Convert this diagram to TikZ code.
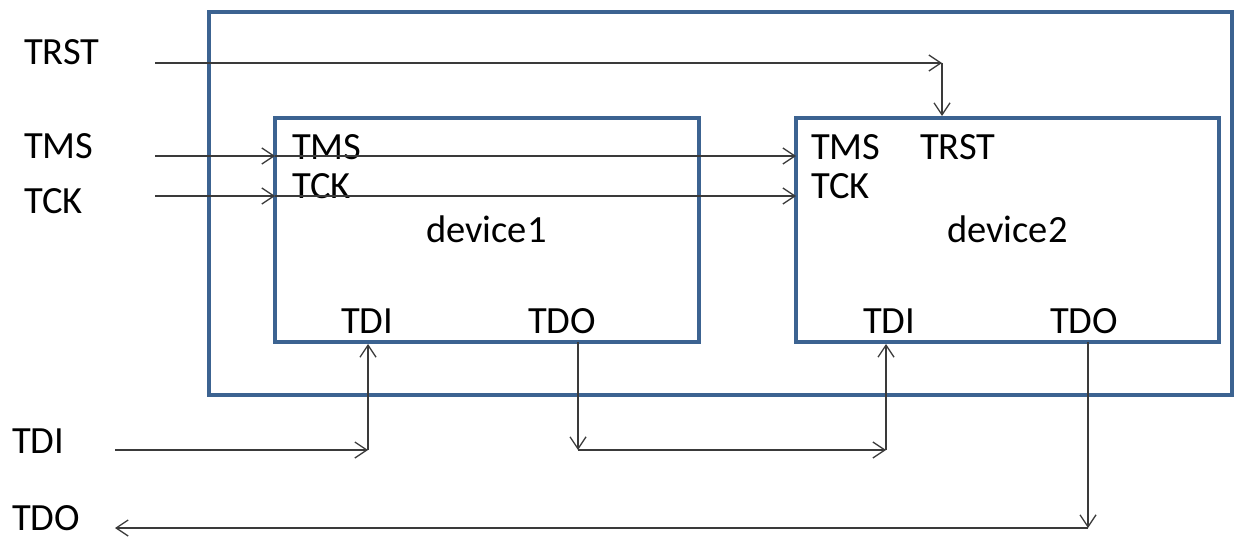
\documentclass[tikz,border=0pt]{standalone}
\usepackage{fontspec}
\setmainfont{Carlito}
\usetikzlibrary{arrows.meta}
\definecolor{boxblue}{HTML}{3C6391}
\definecolor{wirecol}{HTML}{3A3A3A}
\begin{document}
\begin{tikzpicture}[x=1pt,y=-1pt,
  box/.style={draw=boxblue, line width=4pt, inner sep=0pt, rectangle},
  wire/.style={draw=wirecol, line width=1.3pt, -{Straight Barb[length=12pt,width=16pt,line width=1.3pt]}},
  lbl/.style={anchor=base west, inner sep=0pt, font=\fontsize{38.5}{42}\selectfont}]
\useasboundingbox (0,0) rectangle (1236,540);
% boxes
\node[box, minimum width=1023pt, minimum height=383pt] (board) at (720.5,203.5) {};
\node[box, minimum width=424pt, minimum height=224pt] (d1) at (487,230) {};
\node[box, minimum width=423pt, minimum height=224pt] (d2) at (1007.5,230) {};
% outer labels
\node[lbl] (lTRST) at (24,65) {TRST};
\node[lbl] (lTMS) at (24,159) {TMS};
\node[lbl] (lTCK) at (24,213) {TCK};
\node[lbl] (lTDI) at (12,453) {TDI};
\node[lbl] (lTDO) at (12,530) {TDO};
% device1 labels
\node[lbl] (d1TMS) at (292,160) {TMS};
\node[lbl] (d1TCK) at (292,199) {TCK};
\node[lbl] (d1name) at (426,242) {device1};
\node[lbl] (d1TDI) at (341,333) {TDI};
\node[lbl] (d1TDO) at (528,333) {TDO};
% device2 labels
\node[lbl] (d2TMS) at (811,160) {TMS};
\node[lbl] (d2TRST) at (920,160) {TRST};
\node[lbl] (d2TCK) at (811,199) {TCK};
\node[lbl] (d2name) at (947,242) {device2};
\node[lbl] (d2TDI) at (863,333) {TDI};
\node[lbl] (d2TDO) at (1050,333) {TDO};
% wire points
\coordinate (trstA) at (155,63);
\coordinate (trstB) at (942,63);
\coordinate (trstC) at (942,116);
\coordinate (tmsA) at (155,156);
\coordinate (tmsB) at (275,156);
\coordinate (tmsC) at (796,156);
\coordinate (tckA) at (155,196);
\coordinate (tckB) at (275,196);
\coordinate (tckC) at (796,196);
\coordinate (tdiA) at (115,450);
\coordinate (tdiB) at (368,450);
\coordinate (tdiC) at (368,344);
\coordinate (mA) at (578,342);
\coordinate (mB) at (578,450);
\coordinate (mC) at (886,450);
\coordinate (mD) at (886,344);
\coordinate (tdoA) at (1088,342);
\coordinate (tdoB) at (1088,528);
\coordinate (tdoC) at (115,528);
% wires
\draw[wire] (trstA) -- (trstB);
\draw[wire] (trstB) -- (trstC);
\draw[wire] (tmsA) -- (tmsB);
\draw[wire] (tmsB) -- (tmsC);
\draw[wire] (tckA) -- (tckB);
\draw[wire] (tckB) -- (tckC);
\draw[wire] (tdiA) -- (tdiB);
\draw[wire] (tdiB) -- (tdiC);
\draw[wire] (mA) -- (mB);
\draw[wire] (mB) -- (mC);
\draw[wire] (mC) -- (mD);
\draw[wire] (tdoA) -- (tdoB);
\draw[wire] (tdoB) -- (tdoC);
\end{tikzpicture}
\end{document}
